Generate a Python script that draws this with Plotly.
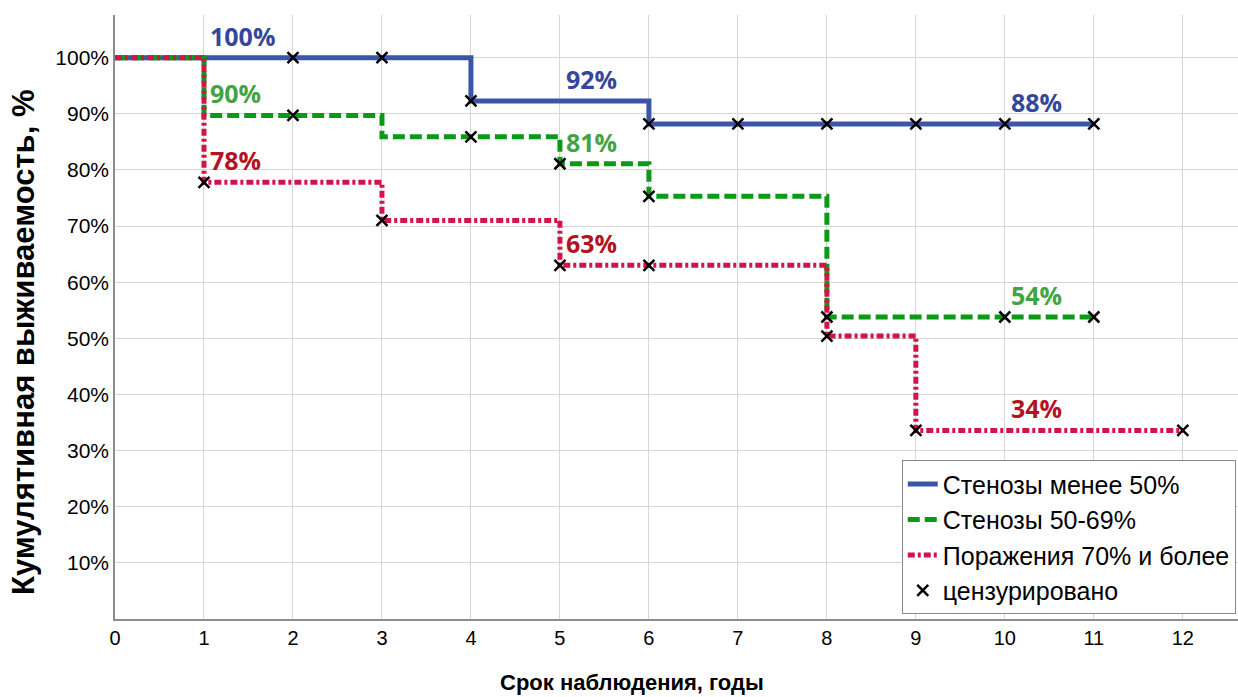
import plotly.graph_objects as go

# Kaplan–Meier survival by stenosis group: event times (years) and survival (%)
groups = ["Стенозы менее 50%", "Стенозы 50-69%", "Поражения 70% и более"]

times_lt50 = [0, 4, 6, 11]
surv_lt50 = [100, 92.3, 88.2, 88.2]
cens_lt50 = [2, 3, 4, 6, 7, 8, 9, 10, 11]

times_50_69 = [0, 1, 3, 5, 6, 8, 11]
surv_50_69 = [100, 89.7, 85.9, 81.1, 75.3, 53.8, 53.8]
cens_50_69 = [2, 4, 5, 6, 8, 10, 11]

times_ge70 = [0, 1, 3, 5, 8, 9, 12]
surv_ge70 = [100, 77.8, 71.0, 63.0, 50.4, 33.6, 33.6]
cens_ge70 = [1, 3, 5, 6, 8, 9, 12]

# times at which the survival value is printed on the curve
label_times = [1, 5, 10]

x_ticks = list(range(0, 13))
y_ticks = list(range(10, 101, 10))

line_colors = ["#3D55A8", "#0A9A14", "#D2144A"]
label_colors = ["#34479A", "#43A343", "#B4121E"]
dashes = ["solid", "12px,5px", "7px,3px,3px,3px"]

series = [
    (times_lt50, surv_lt50, cens_lt50),
    (times_50_69, surv_50_69, cens_50_69),
    (times_ge70, surv_ge70, cens_ge70),
]


def step_value(times, surv, t):
    """Survival at time t (right-continuous step function)."""
    v = surv[0]
    for ti, si in zip(times, surv):
        if ti <= t:
            v = si
    return v


fig = go.Figure()

for name, (t, s, c), col, dash in zip(groups, series, line_colors, dashes):
    fig.add_trace(go.Scatter(
        x=t, y=s, mode="lines", name=name,
        line=dict(color=col, width=5, dash=dash, shape="hv"),
    ))

# censored observations
cx, cy = [], []
for t, s, c in series:
    for ct in c:
        cx.append(ct)
        cy.append(step_value(t, s, ct))
fig.add_trace(go.Scatter(
    x=cx, y=cy, mode="markers", name="цензурировано",
    marker=dict(symbol="x-thin", size=11, color="black",
                line=dict(color="black", width=2.5)),
))

# value labels
for (t, s, c), col in zip(series, label_colors):
    for lt in label_times:
        v = step_value(t, s, lt)
        fig.add_annotation(
            x=lt, y=v, text=f"<b>{round(v)}%</b>", showarrow=False,
            xanchor="left", yanchor="bottom", xshift=4, yshift=3,
            font=dict(family="Open Sans", size=25, color=col),
        )

# axis titles
fig.add_annotation(
    xref="paper", yref="paper", x=0.46, y=-0.105, yanchor="middle",
    text="<b>Срок наблюдения, годы</b>", showarrow=False,
    font=dict(family="Liberation Sans", size=22, color="black"),
)
fig.add_annotation(
    xref="paper", yref="paper", x=-0.081, y=0.457, textangle=-90,
    xanchor="center", yanchor="middle",
    text="<b>Кумулятивная выживаемость, %</b>", showarrow=False,
    font=dict(family="Liberation Sans", size=31, color="black"),
)

fig.update_layout(
    width=1238, height=697,
    margin=dict(l=115, r=0, t=15, b=78),
    paper_bgcolor="white", plot_bgcolor="white",
    font=dict(family="Liberation Sans", size=20, color="black"),
    showlegend=True,
    legend=dict(
        x=0.998, xanchor="right", y=0.008, yanchor="bottom",
        bordercolor="#8a8a8a", borderwidth=1, bgcolor="white",
        font=dict(family="Liberation Sans", size=25, color="black"),
        itemwidth=30, tracegroupgap=0,
    ),
    xaxis=dict(
        range=[0, 12.62], tickvals=x_ticks, ticktext=[str(v) for v in x_ticks],
        showgrid=True, gridcolor="#d6d6d6", gridwidth=1,
        showline=True, linecolor="#8c8c8c", linewidth=1.5,
        zeroline=False, ticks="", ticklen=0,
    ),
    yaxis=dict(
        range=[0, 107.6], tickvals=y_ticks, ticktext=[f"{v}%" for v in y_ticks],
        showgrid=True, gridcolor="#d6d6d6", gridwidth=1,
        showline=True, linecolor="#8c8c8c", linewidth=1.5,
        zeroline=False, ticks="", ticklen=0,
        tickfont=dict(size=21),
    ),
)

fig.write_html("out.html")
